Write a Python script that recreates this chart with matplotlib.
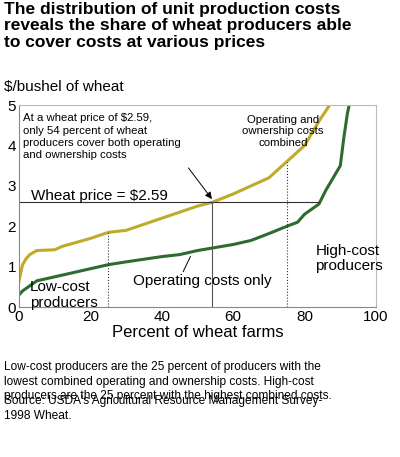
import matplotlib
matplotlib.use("Agg")
import matplotlib.pyplot as plt

comb_x = [0,0.5,1,2,3,5,10,12,20,25,30,40,50,54,60,70,75,80,84,87]
comb_y = [0.65,0.85,1.05,1.2,1.3,1.4,1.42,1.5,1.7,1.85,1.9,2.2,2.5,2.59,2.8,3.2,3.6,4.0,4.6,5.0]
op_x = [0,1,5,10,20,25,30,40,45,50,60,65,70,75,78,80,84,86,88,90,91,92,92.5]
op_y = [0.3,0.4,0.65,0.75,0.95,1.05,1.12,1.25,1.3,1.4,1.55,1.65,1.82,2.0,2.1,2.3,2.55,2.9,3.2,3.5,4.2,4.8,5.0]
price = 2.59
xticks = [0,20,40,60,80,100]
yticks = [0,1,2,3,4,5]

plt.rcParams['font.family'] = ['Liberation Sans', 'DejaVu Sans']
fig = plt.figure(figsize=(4, 4.57), dpi=100)
ax = fig.add_axes([0.0475, 0.328, 0.8925, 0.442])
ax.plot(comb_x, comb_y, color='#c0aa2a', lw=2.2)
ax.plot(op_x, op_y, color='#2e6b2e', lw=2.2)
ax.plot([0, 84], [price, price], color='#333333', lw=0.8)
ax.plot([54, 54], [0, price], color='#555555', lw=0.8)
ax.plot([25, 25], [0, 1.85], color='#333333', lw=0.8, ls=':')
ax.plot([75, 75], [0, 3.6], color='#333333', lw=0.8, ls=':')
ax.set_xlim(0, 100); ax.set_ylim(0, 5)
ax.set_xticks(xticks); ax.set_yticks(yticks)
ax.tick_params(labelsize=11, length=0, pad=2)
for s in ax.spines.values():
    s.set_color('#bbbbbb')
ax.spines['left'].set_color('#888888'); ax.spines['bottom'].set_color('#888888')
ax.set_xlabel('Percent of wheat farms', fontsize=12, labelpad=1)

ax.text(1, 4.8, 'At a wheat price of $2.59,\nonly 54 percent of wheat\nproducers cover both operating\nand ownership costs', fontsize=8.2, va='top', linespacing=1.3)
ax.annotate('', xy=(54.5, 2.62), xytext=(47, 3.5), arrowprops=dict(arrowstyle='-|>', color='black', lw=0.7))
ax.text(3.5, 2.65, 'Wheat price = $2.59', fontsize=11)
ax.text(74, 4.35, 'Operating and\nownership costs\ncombined', fontsize=8.2, ha='center', va='center', linespacing=1.2)
ax.text(3, 0.3, 'Low-cost\nproducers', fontsize=11, va='center', linespacing=1.1)
ax.text(83, 1.2, 'High-cost\nproducers', fontsize=11, va='center', linespacing=1.1)
ax.text(32, 0.65, 'Operating costs only', fontsize=11, va='center')
ax.plot([46, 48], [0.88, 1.25], color='black', lw=0.7)

fig.text(0.01, 0.995, 'The distribution of unit production costs\nreveals the share of wheat producers able\nto cover costs at various prices', fontsize=12.5, fontweight='bold', va='top', linespacing=1.1)
fig.text(0.01, 0.81, '$/bushel of wheat', fontsize=11, va='center')
fig.text(0.01, 0.21, 'Low-cost producers are the 25 percent of producers with the\nlowest combined operating and ownership costs. High-cost\nproducers are the 25 percent with the highest combined costs.', fontsize=8.6, va='top', linespacing=1.3)
fig.text(0.01, 0.135, "Source: USDA's Agricultural Resource Management Survey-\n1998 Wheat.", fontsize=8.6, va='top', linespacing=1.3)
fig.savefig('out.png', dpi=100)
